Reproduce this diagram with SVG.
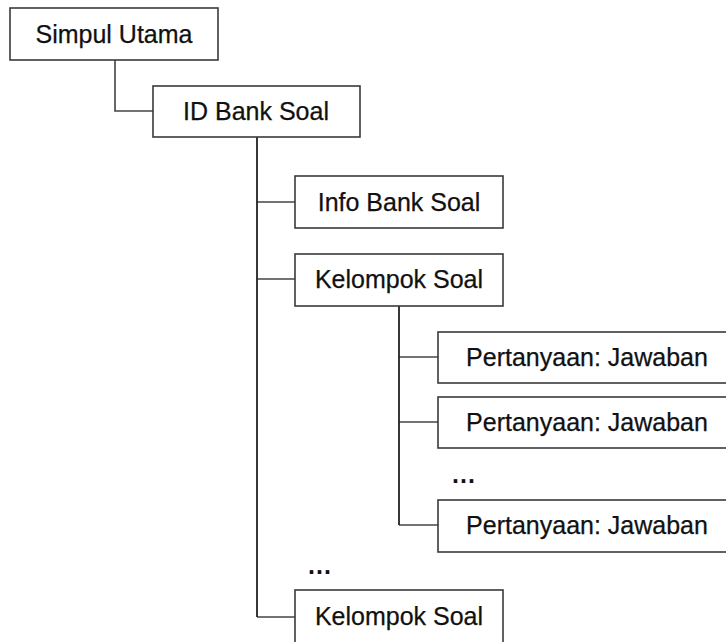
<svg xmlns="http://www.w3.org/2000/svg" width="726" height="642" viewBox="0 0 726 642">
  <style>
    .box { fill: #ffffff; stroke: #3a3a3a; stroke-width: 1.6; }
    .lbl { font-family: "Liberation Sans", Arial, sans-serif; font-size: 25px; fill: #111111; text-anchor: middle; stroke: #111111; stroke-width: 0.25; }
    .dots { font-family: "Liberation Sans", Arial, sans-serif; font-size: 25px; font-weight: bold; fill: #111111; letter-spacing: 1px; }
    .wire { fill: none; stroke: #444444; stroke-width: 1.6; }
    .trunk { fill: none; stroke: #222222; stroke-width: 1.8; }
  </style>
  <rect width="726" height="642" fill="#ffffff"/>

  <!-- tree connectors: trunks are the vertical spines, wires the branches -->
  <g id="connectors">
    <polyline class="wire" points="115,60 115,111 153,111"/>
    <line class="wire" x1="257" y1="202" x2="295" y2="202"/>
    <line class="wire" x1="257" y1="279" x2="295" y2="279"/>
    <line class="wire" x1="257" y1="617" x2="295" y2="617"/>
    <line class="trunk" x1="257" y1="137" x2="257" y2="617"/>
    <line class="wire" x1="399" y1="357" x2="438" y2="357"/>
    <line class="wire" x1="399" y1="422" x2="438" y2="422"/>
    <line class="wire" x1="399" y1="525" x2="438" y2="525"/>
    <line class="trunk" x1="399" y1="306" x2="399" y2="525"/>
  </g>

  <g id="simpul-utama">
    <rect class="box" x="10" y="8" width="208" height="52"/>
    <text class="lbl" x="114" y="43">Simpul Utama</text>
  </g>

  <g id="id-bank-soal">
    <rect class="box" x="153" y="86" width="207" height="51"/>
    <text class="lbl" x="256" y="120">ID Bank Soal</text>
  </g>

  <g id="info-bank-soal">
    <rect class="box" x="295" y="176" width="208" height="52"/>
    <text class="lbl" x="399" y="211">Info Bank Soal</text>
  </g>

  <g id="kelompok-soal-1">
    <rect class="box" x="295" y="254" width="208" height="52"/>
    <text class="lbl" x="399" y="288">Kelompok Soal</text>
  </g>

  <g id="pertanyaan-1">
    <rect class="box" x="438" y="332" width="298" height="51"/>
    <text class="lbl" x="587" y="366">Pertanyaan: Jawaban</text>
  </g>

  <g id="pertanyaan-2">
    <rect class="box" x="438" y="397" width="298" height="51"/>
    <text class="lbl" x="587" y="431">Pertanyaan: Jawaban</text>
  </g>

  <g id="ellipsis-pertanyaan">
    <text class="dots" x="452" y="483">...</text>
  </g>

  <g id="pertanyaan-3">
    <rect class="box" x="438" y="500" width="298" height="52"/>
    <text class="lbl" x="587" y="534">Pertanyaan: Jawaban</text>
  </g>

  <g id="ellipsis-kelompok">
    <text class="dots" x="308" y="574">...</text>
  </g>

  <g id="kelompok-soal-2">
    <rect class="box" x="295" y="590" width="208" height="54"/>
    <text class="lbl" x="399" y="625">Kelompok Soal</text>
  </g>
</svg>
